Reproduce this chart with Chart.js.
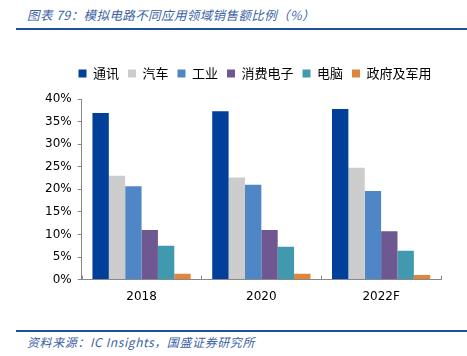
<!DOCTYPE html>
<html><head><meta charset="utf-8">
<script src="https://cdn.jsdelivr.net/npm/chart.js@4/dist/chart.umd.min.js"></script>
<style>
html,body{margin:0;padding:0;background:#fff;width:467px;height:356px;overflow:hidden;}
#title{position:absolute;left:27px;top:5px;font:italic 12.5px "Noto Sans CJK SC",sans-serif;color:#3a62a5;letter-spacing:0.4px;}
#line1{position:absolute;left:16px;top:28px;width:451px;height:2px;background:#1f4e9a;}
#line2{position:absolute;left:16px;top:330px;width:451px;height:2px;background:#1f4e9a;}
#foot{position:absolute;left:27px;top:333px;font:italic 12px "Noto Sans CJK SC",sans-serif;color:#3a62a5;letter-spacing:0.6px;}
#wrap{position:absolute;left:0;top:58px;width:467px;height:248px;}
</style></head><body>
<div id="title">图表 79：模拟电路不同应用领域销售额比例（%）</div>
<div id="line1"></div>
<div id="wrap"><canvas id="c"></canvas></div>
<div id="line2"></div>
<div id="foot">资料来源：IC Insights，国盛证券研究所</div>
<script>
const categories = ["2018", "2020", "2022F"];
const seriesNames = ["通讯", "汽车", "工业", "消费电子", "电脑", "政府及军用"];
const telecom = [36.9, 37.3, 37.8];
const auto = [23.0, 22.6, 24.8];
const industrial = [20.7, 21.0, 19.6];
const consumer = [11.0, 11.0, 10.7];
const computer = [7.5, 7.3, 6.4];
const government = [1.3, 1.3, 1.0];
const yTicks = [0, 5, 10, 15, 20, 25, 30, 35, 40];
const colors = ["#00409a", "#cccccc", "#4f86c6", "#6f5791", "#4199b0", "#e0863c"];
const values = [telecom, auto, industrial, consumer, computer, government];

const innerTicks = {
  id: 'innerTicks',
  afterDraw(chart) {
    const ctx = chart.ctx, x = chart.scales.x, y = chart.scales.y;
    ctx.save();
    ctx.strokeStyle = '#888';
    ctx.lineWidth = 1;
    const n = categories.length;
    for (let i = 0; i <= n; i++) {
      const px = Math.round(x.left + (x.right - x.left) * i / n) + 0.5;
      ctx.beginPath(); ctx.moveTo(px, y.bottom); ctx.lineTo(px, y.bottom - 4); ctx.stroke();
    }
    ctx.restore();
  }
};

const legendTweak = {
  id: 'legendTweak',
  beforeInit(chart) {
    const lg = chart.legend;
    if (lg && !lg._patched) {
      const fit = lg.fit;
      lg.fit = function () { fit.call(this); this.height += 9; };
      lg._patched = true;
    }
  },
  afterLayout(chart) {
    const lg = chart.legend;
    lg.left += 15; lg.right += 15;
  }
};

new Chart(document.getElementById('c'), {
  type: 'bar',
  data: {
    labels: categories,
    datasets: seriesNames.map((n, i) => ({
      label: n, data: values[i], backgroundColor: colors[i],
      categoryPercentage: 0.82, barPercentage: 1.0
    }))
  },
  options: {
    responsive: true, maintainAspectRatio: false, animation: false,
    layout: { padding: { left: 39, right: 26, top: 0, bottom: 0 } },
    plugins: {
      tooltip: { enabled: false },
      legend: {
        position: 'top',
        labels: { boxWidth: 8, boxHeight: 8, padding: 9, color: '#000',
          font: { family: '"Noto Sans CJK SC"', size: 13 } }
      }
    },
    scales: {
      x: {
        grid: { display: false },
        border: { color: '#888' },
        ticks: { color: '#000', font: { family: 'DejaVu Sans', size: 12 }, padding: 2 }
      },
      y: {
        min: 0, max: 40,
        afterBuildTicks: s => { s.ticks = yTicks.map(v => ({ value: v })); },
        grid: { drawOnChartArea: false, tickLength: 4, color: '#888' },
        border: { color: '#888' },
        ticks: { color: '#000', font: { family: 'DejaVu Sans', size: 12 }, padding: 6,
          callback: v => v + '%' }
      }
    }
  },
  plugins: [legendTweak, innerTicks]
});
</script>
</body></html>
